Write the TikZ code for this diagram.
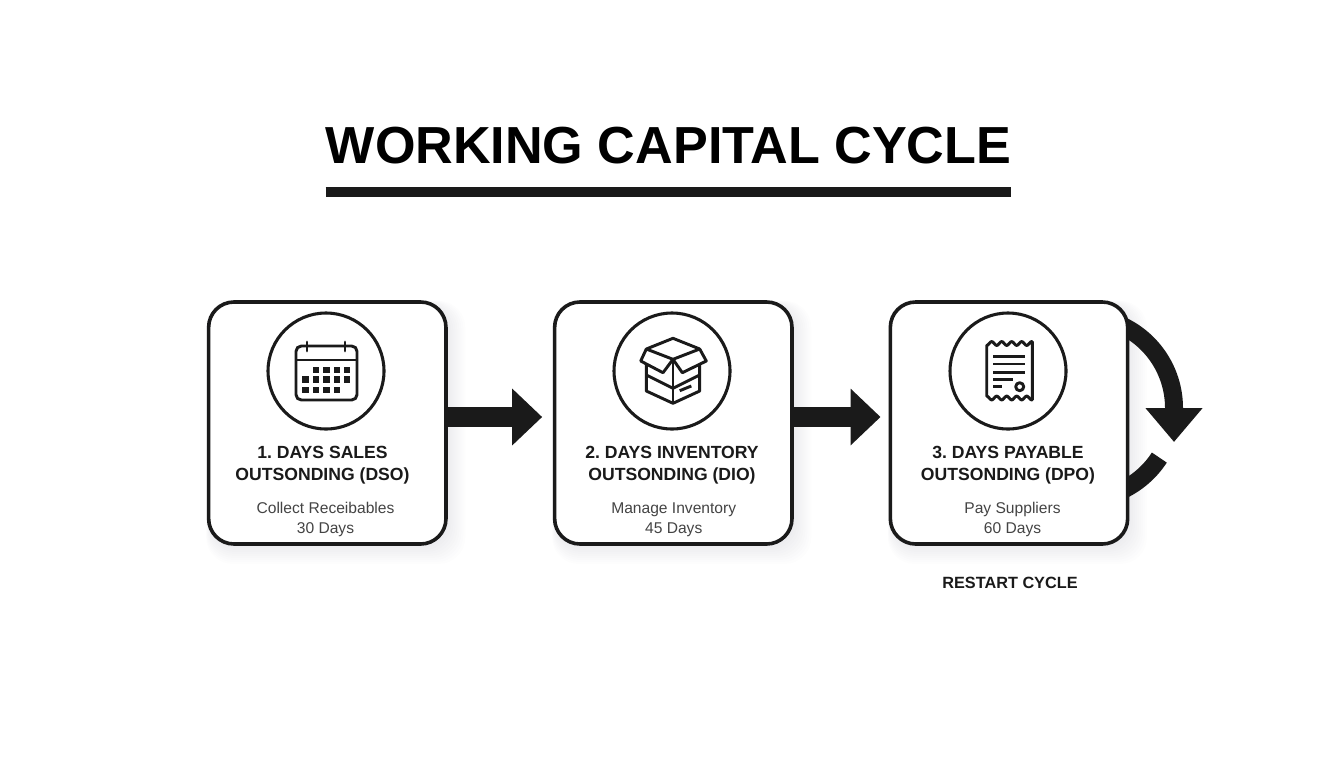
\documentclass[tikz,border=0pt]{standalone}
\usepackage{fontspec}
\setmainfont{Liberation Sans}
\usetikzlibrary{arrows.meta}

\definecolor{inkdark}{HTML}{1A1A1A}
\definecolor{subgray}{HTML}{444444}

\tikzset{
  stagebox/.style={draw=inkdark,line width=2.7pt,rounded corners=19pt,fill=white,minimum width=178pt,minimum height=181.5pt,inner sep=0pt},
  iconring/.style={draw=inkdark,line width=2.3pt,circle,minimum size=87pt,inner sep=0pt},
  iconline/.style={draw=inkdark,line width=2.2pt,line join=round},
  stagetitle/.style={align=center,font=\fontsize{13.2pt}{16.5pt}\selectfont\bfseries,text=inkdark,inner sep=0pt},
  stagenote/.style={align=center,font=\fontsize{11.7pt}{15pt}\selectfont,text=subgray,inner sep=0pt},
  flowarrow/.style={draw=inkdark,line width=15pt,-{Triangle[length=22.5pt,width=41.25pt]}},
  restartline/.style={draw=inkdark,line width=13.5pt},
}

\begin{document}
\frenchspacing
\begin{tikzpicture}[x=0.75pt,y=0.75pt,yscale=-1,xscale=1]
\useasboundingbox (0,0) rectangle (1344,768);

% Title
\node (title) at (668.5,146) [inner sep=0pt,text=black,font=\fontsize{39.1pt}{44pt}\selectfont\bfseries] {WORKING CAPITAL CYCLE};
\coordinate (rulerow) at (0,192);
\draw [inkdark,line width=7.5pt] (title.west |- rulerow) -- (title.east |- rulerow);

% Soft shadows
\foreach \cx in {327.3,673.3,1009}
  \foreach \s in {0,2,...,16}
    \fill [black!85!blue,opacity=0.008,rounded corners=20pt] (\cx-118-\s*0.2,304-\s*0.2) rectangle (\cx+122+\s,548+\s);

% Restart arrow, passes behind the third box
\coordinate (restartcentre) at (1083,408);
\draw [restartline,-{Triangle[length=25.5pt,width=41.25pt]}] (restartcentre) ++(-70:91) arc [start angle=-70,end angle=0,radius=91] -- ++(0,34);
\draw [restartline] (restartcentre) ++(33:91) arc [start angle=33,end angle=70,radius=91];

% Boxes
\node [stagebox] (dso) at (327.3,423) {};
\node [stagebox] (dio) at (673.3,423) {};
\node [stagebox] (dpo) at (1009,423) {};

% Arrows
\coordinate (arrowrow) at (0,417);
\draw [flowarrow,shorten >=8pt] (dso.east |- arrowrow) -- (dio.west |- arrowrow);
\draw [flowarrow,shorten >=6pt] (dio.east |- arrowrow) -- (dpo.west |- arrowrow);

% Rings
\node [iconring] (dsoring) at (326,371) {};
\node [iconring] (dioring) at (672,371) {};
\node [iconring] (dporing) at (1008,371) {};

% Calendar
\draw [iconline,rounded corners=4pt] (296,346) rectangle (357,400);
\draw [iconline] (296,360) -- (357,360);
\draw [iconline,line cap=round] (307,342) -- (307,351);
\draw [iconline,line cap=round] (345,342) -- (345,351);
\foreach \cx in {316,326.4,336.8,347.2}
  \fill [inkdark] (\cx-3.2,366.5) rectangle (\cx+3.2,372.9);
\foreach \cx in {305.6,316,326.4,336.8,347.2}
  \fill [inkdark] (\cx-3.2,376.1) rectangle (\cx+3.2,382.5);
\foreach \cx in {305.6,316,326.4,336.8}
  \fill [inkdark] (\cx-3.2,386.5) rectangle (\cx+3.2,392.9);

% Open box
\draw [iconline] (673,338.3) -- (699.7,349) -- (673,359.3) -- (646.3,349) -- cycle;
\draw [iconline] (646.3,349) -- (640.7,361) -- (663,372.7) -- (673,359.3) -- (682.3,372.7) -- (706.3,361) -- (699.7,349);
\draw [iconline] (646.3,364) -- (646.3,391) -- (673,403.3) -- (699.7,391) -- (699.7,364);
\draw [iconline] (673,359.3) -- (673,403.3);
\draw [iconline] (646.3,375) -- (673,388.3) -- (699.7,375);
\draw [iconline] (679.7,390.7) -- (691.3,386);

% Receipt
\draw [iconline] plot [domain=986.7:1032.3,samples=50] (\x,{343.5+1.9*cos((\x-986.7)*36)})
  -- plot [domain=1032.3:986.7,samples=50] (\x,{398-1.9*cos((\x-986.7)*36)}) -- cycle;
\foreach \ly in {356.7,364,372.3}
  \draw [iconline] (993.3,\ly) -- (1025,\ly);
\draw [iconline] (993.3,379.3) -- (1013,379.3);
\draw [iconline] (993.3,386.7) -- (1001.7,386.7);
\draw [iconline] (1019.7,386.7) circle (4);

% Text Node
\node [stagetitle] (dsotitle) at (322.5,465) {1. DAYS SALES\\OUTSONDING (DSO)};
\node [stagetitle] (diotitle) at (672,465) {2. DAYS INVENTORY\\OUTSONDING (DIO)};
\node [stagetitle] (dpotitle) at (1008,465) {3. DAYS PAYABLE\\OUTSONDING (DPO)};
\node [stagenote] (dsonote) at (325.5,519.5) {Collect Receibables\\30 Days};
\node [stagenote] (dionote) at (673.7,519.5) {Manage Inventory\\45 Days};
\node [stagenote] (dponote) at (1012.5,519.5) {Pay Suppliers\\60 Days};
\node [inner sep=0pt,text=inkdark,font=\fontsize{12.2pt}{15pt}\selectfont\bfseries] (restart) at (1010,583) {RESTART CYCLE};

\end{tikzpicture}
\end{document}
